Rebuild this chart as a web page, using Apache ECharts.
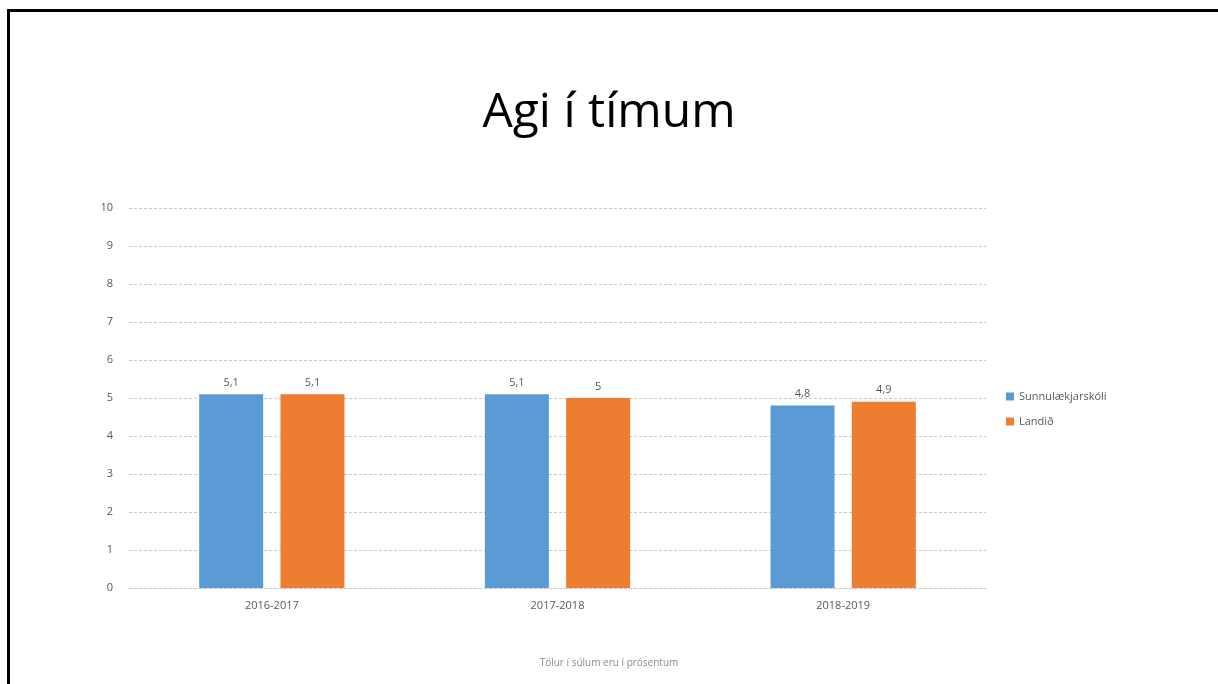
<!DOCTYPE html>
<html>
<head>
<meta charset="utf-8">
<script src="https://cdn.jsdelivr.net/npm/echarts@6/dist/echarts.min.js"></script>
<style>
  html, body { margin: 0; padding: 0; background: #fff; }
  #wrap { position: relative; width: 1218px; height: 684px; overflow: hidden; }
  #chart { position: absolute; left: 0; top: 0; width: 1218px; height: 684px; }
  #frame { position: absolute; left: 7px; top: 9px; right: -10px; bottom: -10px;
           border-top: 3px solid #000; border-left: 3px solid #000; pointer-events: none; }
</style>
</head>
<body>
<div id="wrap">
  <div id="chart"></div>
  <div id="frame"></div>
</div>
<script>
// School years on the category axis
const categories = ['2016-2017', '2017-2018', '2018-2019'];
// Average scores per year
const schoolValues = [5.1, 5.1, 4.8];
const nationalValues = [5.1, 5.0, 4.9];
const seriesNames = ['Sunnulækjarskóli', 'Landið'];

const fmt = v => String(v).replace('.', ',');

const chart = echarts.init(document.getElementById('chart'), null, { renderer: 'canvas' });
const labelStyle = {
  show: true, position: 'top', distance: 6,
  color: '#595959', fontSize: 11, fontFamily: 'Open Sans',
  formatter: p => fmt(p.value)
};
chart.setOption({
  animation: false,
  backgroundColor: '#fff',
  title: [
    { text: 'Agi í tímum', left: 'center', top: 84,
      textStyle: { fontFamily: 'Open Sans', fontWeight: 'normal', fontSize: 48, color: '#000' } },
    { text: 'Tölur í súlum eru í prósentum', left: 'center', top: 653,
      textStyle: { fontFamily: 'Open Sans', fontWeight: 'normal', fontSize: 10, color: '#8c8c8c' } }
  ],
  legend: {
    orient: 'vertical', left: 1001, top: 386, itemWidth: 8, itemHeight: 8, itemGap: 14,
    icon: 'rect',
    textStyle: { fontFamily: 'Open Sans', fontSize: 11, color: '#595959' },
    data: seriesNames
  },
  grid: { left: 129, right: 232, top: 208, bottom: 96 },
  xAxis: {
    type: 'category', data: categories,
    axisLine: { show: true, lineStyle: { color: '#c8c8c8', type: [3, 2] } },
    axisTick: { show: false },
    axisLabel: { color: '#595959', fontSize: 11, fontFamily: 'Open Sans', margin: 12 }
  },
  yAxis: {
    type: 'value', min: 0, max: 10, interval: 1,
    axisLine: { show: false }, axisTick: { show: false },
    axisLabel: { color: '#595959', fontSize: 11, fontFamily: 'Open Sans', margin: 16 },
    splitLine: { lineStyle: { color: '#c8c8c8', type: [3, 2] } }
  },
  series: [
    { name: seriesNames[0], type: 'bar', data: schoolValues, barWidth: 64, barGap: '27%',
      itemStyle: { color: '#5b9bd5' }, label: labelStyle },
    { name: seriesNames[1], type: 'bar', data: nationalValues, barWidth: 64, barGap: '27%',
      itemStyle: { color: '#ed7d31' }, label: labelStyle }
  ]
});
</script>
</body>
</html>
